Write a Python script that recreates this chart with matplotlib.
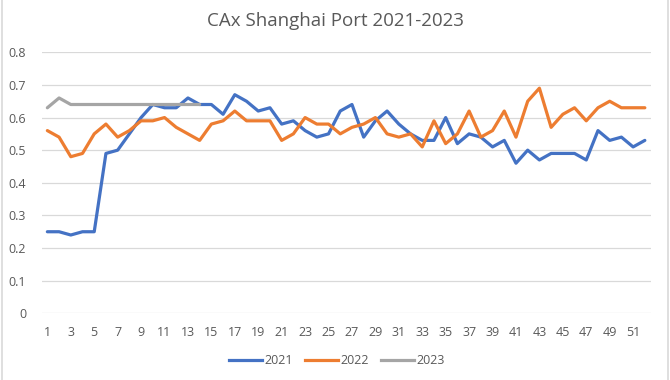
import matplotlib
matplotlib.use("Agg")
import matplotlib.pyplot as plt
from matplotlib.lines import Line2D

plt.rcParams['font.family'] = ['Open Sans', 'DejaVu Sans']

weeks = list(range(1, 53))
y2021 = [0.25, 0.25, 0.24, 0.25, 0.25, 0.49, 0.50, 0.55, 0.60, 0.64,
         0.63, 0.63, 0.66, 0.64, 0.64, 0.61, 0.67, 0.65, 0.62, 0.63,
         0.58, 0.59, 0.56, 0.54, 0.55, 0.62, 0.64, 0.54, 0.59, 0.62,
         0.58, 0.55, 0.53, 0.53, 0.60, 0.52, 0.55, 0.54, 0.51, 0.53,
         0.46, 0.50, 0.47, 0.49, 0.49, 0.49, 0.47, 0.56, 0.53, 0.54,
         0.51, 0.53]
y2022 = [0.56, 0.54, 0.48, 0.49, 0.55, 0.58, 0.54, 0.56, 0.59, 0.59,
         0.60, 0.57, 0.55, 0.53, 0.58, 0.59, 0.62, 0.59, 0.59, 0.59,
         0.53, 0.55, 0.60, 0.58, 0.58, 0.55, 0.57, 0.58, 0.60, 0.55,
         0.54, 0.55, 0.51, 0.59, 0.52, 0.55, 0.62, 0.54, 0.56, 0.62,
         0.54, 0.65, 0.69, 0.57, 0.61, 0.63, 0.59, 0.63, 0.65, 0.63,
         0.63, 0.63]
y2023 = [0.63, 0.66, 0.64, 0.64, 0.64, 0.64, 0.64, 0.64, 0.64, 0.64,
         0.64, 0.64, 0.64, 0.64]
series_names = ["2021", "2022", "2023"]
colors = ["#4472C4", "#ED7D31", "#A5A5A5"]
title = "CAx Shanghai Port 2021-2023"
yticks = [0, 0.1, 0.2, 0.3, 0.4, 0.5, 0.6, 0.7, 0.8]
ytick_labels = ["0", "0.1", "0.2", "0.3", "0.4", "0.5", "0.6", "0.7", "0.8"]

W, H = 670, 380
fig = plt.figure(figsize=(W / 100, H / 100), dpi=100)
ax = fig.add_axes([41.5 / W, 1 - 313.3 / H, (650.7 - 41.5) / W, (313.3 - 52.3) / H])

txt = "#595959"
grid = "#D9D9D9"

for yv in yticks:
    ax.axhline(yv, color=grid, lw=0.9, zorder=0)

data = [y2021, y2022, y2023]
for name, vals, c in zip(series_names, data, colors):
    ax.plot(weeks[:len(vals)], vals, color=c, lw=2.3, solid_capstyle='round',
            solid_joinstyle='round', label=name, zorder=3)

ax.set_xlim(0.5, 52.5)
ax.set_ylim(0, 0.8)
ax.set_xticks(weeks[::2])
ax.set_xticklabels([str(w) for w in weeks[::2]])
ax.set_yticks(yticks)
ax.set_yticklabels(ytick_labels)
ax.tick_params(axis='both', length=0, labelsize=9, colors=txt)
ax.tick_params(axis='x', pad=9)
ax.tick_params(axis='y', pad=11)
for s in ax.spines.values():
    s.set_visible(False)

fig.text(335 / W, 1 - 21 / H, title, ha='center', va='center', fontsize=13.5, color=txt)

handles = [Line2D([0], [0], color=c, lw=2.3) for c in colors]
leg = fig.legend(handles, series_names, loc='center', bbox_to_anchor=(337 / W, 1 - 361 / H),
                 ncol=3, frameon=False, fontsize=9, handlelength=2.6, handletextpad=0.2,
                 columnspacing=1.0, borderpad=0)
for t in leg.get_texts():
    t.set_color(txt)

# chart-area border (left and right edges visible)
fig.add_artist(Line2D([2 / W, 2 / W], [0, 1], color=grid, lw=1.2, transform=fig.transFigure))
fig.add_artist(Line2D([668 / W, 668 / W], [0, 1], color=grid, lw=1.2, transform=fig.transFigure))

fig.savefig("out.png", dpi=100)
